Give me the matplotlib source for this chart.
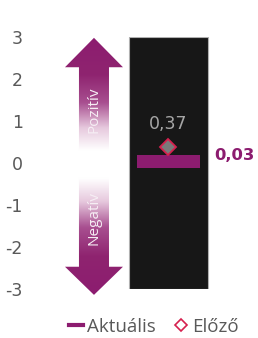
import numpy as np
import matplotlib
matplotlib.use("Agg")
import matplotlib.pyplot as plt
from matplotlib.path import Path
from matplotlib.patches import PathPatch, Rectangle
from matplotlib.lines import Line2D
import matplotlib.colors as mcolors

# ---- data ----
categories = ["Mutató"]
current_values = [0.03]
previous_values = [0.37]
current_labels = ["0,03"]
previous_labels = ["0,37"]
y_ticks = [-3, -2, -1, 0, 1, 2, 3]
y_tick_labels = ["-3", "-2", "-1", "0", "1", "2", "3"]
arrow_labels = ["Pozitív", "Negatív"]
legend_labels = ["Aktuális", "Előző"]

PURPLE = "#8C1C6F"
GRAY_TXT = "#595959"

fig = plt.figure(figsize=(2.58, 3.38), dpi=100)
ax = fig.add_axes([25/258, 1-289/338, 233/258, 252/338])
ax.set_xlim(-1.816, 1.133)
ax.set_ylim(-3, 3)
for s in ax.spines.values():
    s.set_visible(False)
ax.set_xticks([])
ax.set_yticks(y_ticks)
ax.set_yticklabels(y_tick_labels, fontsize=12.5, color=GRAY_TXT, family="DejaVu Sans")
ax.tick_params(axis="y", length=0, pad=1.5)

xs = np.arange(len(categories))
# black panel
for x in xs:
    ax.add_patch(Rectangle((x-0.5, -3), 1.0, 6, facecolor="#171717", edgecolor="#b0b0b0", lw=0.8, zorder=1))

# current bar (thin horizontal)
bh = 0.31
ax.bar(xs, [bh]*len(xs), bottom=np.array(current_values)-bh/2, width=0.8, color=PURPLE, zorder=3)
# previous diamond
ax.plot(xs, previous_values, linestyle="none", marker="D", markersize=8.5,
        markerfacecolor="#7a7a7a", markeredgecolor="#D6204E", markeredgewidth=1.3, zorder=4)
for x, v, lab in zip(xs, previous_values, previous_labels):
    ax.text(x, v+0.55, lab, ha="center", va="center", fontsize=12.5, color="#a6a6a6",
            family="DejaVu Sans", zorder=5)
for x, v, lab in zip(xs, current_values, current_labels):
    ax.text(x+0.58, v+0.15, lab, ha="left", va="center", fontsize=11.8, color=PURPLE,
            fontweight="bold", family="DejaVu Sans", zorder=5)

# gradient double arrow
ax_cx = -0.943
shaft_w = 0.19
head_w = 0.367

def half_arrow(tip, base, end):
    verts = [(ax_cx - shaft_w, end), (ax_cx - shaft_w, base), (ax_cx - head_w, base),
             (ax_cx, tip), (ax_cx + head_w, base), (ax_cx + shaft_w, base),
             (ax_cx + shaft_w, end), (ax_cx - shaft_w, end)]
    return Path(verts, closed=True)

cmap = mcolors.LinearSegmentedColormap.from_list(
    "g", [(0, "#ffffff"), (0.1, "#ffffff"), (0.28, "#E6C8DD"), (0.48, "#A84F90"),
          (0.7, "#8F2470"), (1, PURPLE)])
for tip, base, end in [(2.98, 2.28, 0.0), (-3.14, -2.47, -0.05)]:
    path = half_arrow(tip, base, end)
    patch = PathPatch(path, facecolor="none", edgecolor="none", transform=ax.transData)
    patch.set_clip_on(False)
    ax.add_patch(patch)
    grad = np.linspace(0, 1, 256).reshape(-1, 1)
    if tip > 0:
        extent = (ax_cx - head_w, ax_cx + head_w, end, tip)
        img = ax.imshow(grad, cmap=cmap, extent=extent, origin="lower", aspect="auto", zorder=2)
    else:
        extent = (ax_cx - head_w, ax_cx + head_w, tip, end)
        img = ax.imshow(grad[::-1], cmap=cmap, extent=extent, origin="lower", aspect="auto", zorder=2)
    img.set_clip_box(fig.bbox)
    img.set_clip_path(patch)
ax.set_xlim(-1.816, 1.133)
ax.set_ylim(-3, 3)

ax.text(ax_cx, 1.26, arrow_labels[0], rotation=90, ha="center", va="center", color="#f6eef4",
        fontsize=11, family="Open Sans", zorder=5)
ax.text(ax_cx, -1.31, arrow_labels[1], rotation=90, ha="center", va="center", color="#f6eef4",
        fontsize=11, family="Open Sans", zorder=5)

# legend
handles = [Line2D([], [], color=PURPLE, lw=3),
           Line2D([], [], linestyle="none", marker="D", markersize=6.5, markerfacecolor="white",
                  markeredgecolor="#D6204E", markeredgewidth=1.2)]
fig.legend(handles, legend_labels, loc="center", bbox_to_anchor=(154/258, 1-327/338), ncol=2,
           frameon=False, prop={"family": "Open Sans", "size": 13.5}, labelcolor=GRAY_TXT,
           handlelength=0.75, handletextpad=0.2, columnspacing=1.0)

fig.savefig("out.png", dpi=100)
